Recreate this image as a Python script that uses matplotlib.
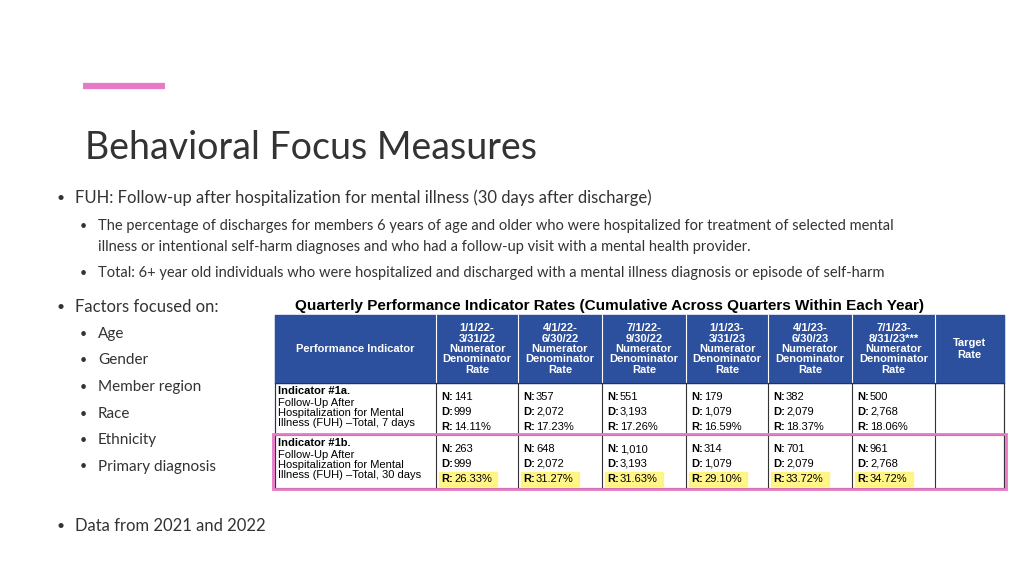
import matplotlib.pyplot as plt
from matplotlib.patches import Rectangle

periods = ["1/1/22-\n3/31/22", "4/1/22-\n6/30/22", "7/1/22-\n9/30/22",
           "1/1/23-\n3/31/23", "4/1/23-\n6/30/23", "7/1/23-\n8/31/23***"]
num_7 = ["141", "357", "551", "179", "382", "500"]
den_7 = ["999", "2,072", "3,193", "1,079", "2,079", "2,768"]
rate_7 = ["14.11%", "17.23%", "17.26%", "16.59%", "18.37%", "18.06%"]
num_30 = ["263", "648", "1,010", "314", "701", "961"]
den_30 = ["999", "2,072", "3,193", "1,079", "2,079", "2,768"]
rate_30 = ["26.33%", "31.27%", "31.63%", "29.10%", "33.72%", "34.72%"]
factors = ["Age", "Gender", "Member region", "Race", "Ethnicity", "Primary diagnosis"]

fig = plt.figure(figsize=(10.24, 5.76), dpi=100)
ax = fig.add_axes([0, 0, 1, 1])
ax.set_xlim(0, 1024)
ax.set_ylim(576, 0)
ax.axis("off")

body = dict(family="Lato", color="#333333", va="center")
ax.plot([83, 165], [86, 86], color="#E879C6", lw=4.5, solid_capstyle="butt")
ax.text(85, 148, "Behavioral Focus Measures", fontsize=27, family="Lato", color="#333333", va="center")

ax.text(57, 198, "•", fontsize=10, **body)
ax.text(75, 198, "FUH: Follow-up after hospitalization for mental illness (30 days after discharge)", fontsize=12, **body)
ax.text(80, 226, "•", fontsize=9, **body)
ax.text(98, 226, "The percentage of discharges for members 6 years of age and older who were hospitalized for treatment of selected mental",
        fontsize=10.5, **body)
ax.text(98, 247, "illness or intentional self-harm diagnoses and who had a follow-up visit with a mental health provider.",
        fontsize=10.5, **body)
ax.text(80, 273, "•", fontsize=9, **body)
ax.text(98, 273, "Total: 6+ year old individuals who were hospitalized and discharged with a mental illness diagnosis or episode of self-harm",
        fontsize=10.5, **body)
ax.text(57, 307, "•", fontsize=10, **body)
ax.text(75, 307, "Factors focused on:", fontsize=12, **body)
for i, f in enumerate(factors):
    y = 334 + i * 26.5
    ax.text(80, y, "•", fontsize=9, **body)
    ax.text(98, y, f, fontsize=11, **body)
ax.text(57, 526, "•", fontsize=10, **body)
ax.text(75, 526, "Data from 2021 and 2022", fontsize=12, **body)

# table
xs = [275, 436, 518, 602, 686, 768, 852, 935, 1004]
ys = [315, 383, 435, 488]
tf = dict(family="Liberation Sans")
ax.text(295, 306, "Quarterly Performance Indicator Rates (Cumulative Across Quarters Within Each Year)",
        fontsize=11, fontweight="bold", va="center", **tf)
ax.add_patch(Rectangle((xs[0], ys[0]), xs[-1] - xs[0], ys[1] - ys[0], color="#2C4F9E", zorder=1))
ax.text((xs[0] + xs[1]) / 2, 349, "Performance Indicator", color="white", fontsize=8, fontweight="bold",
        ha="center", va="center", **tf)
for i, p in enumerate(periods):
    cx = (xs[i + 1] + xs[i + 2]) / 2
    ax.text(cx, 349, p + "\nNumerator\nDenominator\nRate", color="white", fontsize=8, fontweight="bold",
            ha="center", va="center", linespacing=1.05, **tf)
ax.text((xs[7] + xs[8]) / 2, 349, "Target\nRate", color="white", fontsize=8, fontweight="bold",
        ha="center", va="center", **tf)
for x in xs:
    ax.plot([x, x], [ys[0], ys[-1]], color="white" if x not in (xs[0], xs[-1]) else "#2C4F9E", lw=0.8, zorder=2)
for x in xs:
    ax.plot([x, x], [ys[1], ys[-1]], color="#333333", lw=0.8, zorder=2)
for y in ys[1:]:
    ax.plot([xs[0], xs[-1]], [y, y], color="#333333", lw=0.8, zorder=2)

rows = [("Indicator #1a.", "7 days", num_7, den_7, rate_7, ys[1]),
        ("Indicator #1b.", "30 days", num_30, den_30, rate_30, ys[2])]
for title, days, nn, dd, rr, top in rows:
    ax.text(278, top + 8, title, fontsize=8, fontweight="bold", va="center", **tf)
    ax.text(278, top + 30, "Follow-Up After\nHospitalization for Mental\nIllness (FUH) \u2013Total, " + days,
            fontsize=8, va="center", linespacing=1.05, **tf)
    for i in range(6):
        x0 = xs[i + 1] + 5
        for j, (lab, v) in enumerate([("N:", nn[i]), ("D:", dd[i]), ("R:", rr[i])]):
            y = top + 14 + j * 15
            if days == "30 days" and lab == "R:":
                ax.add_patch(Rectangle((x0 - 2, y - 7), 58, 14, color="#FFF36B", alpha=0.8, zorder=1))
            ax.text(x0, y, lab, fontsize=8, fontweight="bold", va="center", zorder=3, **tf)
            ax.text(x0 + 13, y, v, fontsize=8, va="center", zorder=3, **tf)

ax.add_patch(Rectangle((273, 434), 733, 55, fill=False, edgecolor="#E879C6", lw=2, zorder=4))

fig.savefig("out.png", dpi=100)
